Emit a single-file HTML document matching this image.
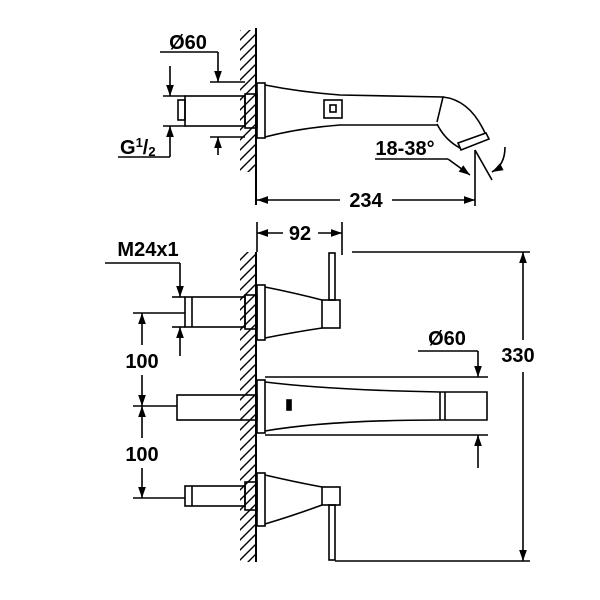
<!DOCTYPE html>
<html><head><style>body{margin:0;background:#fff}svg{display:block}</style></head><body>
<svg width="600" height="600" viewBox="0 0 600 600" xmlns="http://www.w3.org/2000/svg" font-family="Liberation Sans, sans-serif" font-weight="bold" font-size="20">
<defs>
<marker id="a" viewBox="0 0 10 10" refX="10" refY="5" markerWidth="7" markerHeight="7" orient="auto-start-reverse"><path d="M0,1.5L10,5L0,8.5z" fill="#000"/></marker>
<pattern id="h" width="10" height="10" patternUnits="userSpaceOnUse"><path d="M-2,12L12,-2M-2,2L2,-2M8,12L12,8" stroke="#000" stroke-width="1.4"/></pattern>
</defs>
<g fill="none" stroke="#000" stroke-width="1.6">
<rect x="240" y="30" width="15" height="142" fill="url(#h)" stroke="none"/>
<line x1="256" y1="28" x2="256" y2="205" stroke-width="2"/>
<rect x="178" y="100" width="7" height="20"/>
<rect x="185" y="96" width="60" height="30"/>
<rect x="245" y="94" width="12" height="34"/>
<rect x="257" y="83" width="8" height="55"/>
<path d="M265,85 Q300,92 340,95 L443,97 L437,122 M265,137 Q300,128 340,125 L437,125"/>
<path d="M443,97 Q470,100 485,133 M437,124 Q445,140 460,148"/>
<path d="M458,143 L486,133 L489,139 L461,150 Z"/>
<rect x="324" y="100" width="18" height="18"/>
<rect x="330" y="105" width="6" height="7"/>
<line x1="160" y1="52" x2="218" y2="52"/><line x1="218" y1="52" x2="218" y2="82" marker-end="url(#a)"/>
<line x1="210" y1="82" x2="245" y2="82"/><line x1="210" y1="137" x2="245" y2="137"/>
<line x1="218" y1="155" x2="218" y2="137" marker-end="url(#a)"/>
<line x1="163" y1="96" x2="185" y2="96"/><line x1="163" y1="126" x2="185" y2="126"/>
<line x1="170" y1="66" x2="170" y2="96" marker-end="url(#a)"/>
<line x1="118" y1="157" x2="170" y2="157"/><line x1="170" y1="157" x2="170" y2="126" marker-end="url(#a)"/>
<line x1="375" y1="159" x2="448" y2="159"/><line x1="448" y1="159" x2="470" y2="175" marker-end="url(#a)"/>
<line x1="475" y1="150" x2="475" y2="206"/>
<line x1="475" y1="150" x2="492" y2="180"/>
<path d="M505,147 Q505,165 492,172" marker-end="url(#a)"/>
<line x1="257" y1="200" x2="340" y2="200" marker-start="url(#a)"/><line x1="392" y1="200" x2="475" y2="200" marker-end="url(#a)"/>
<rect x="240" y="252" width="15" height="310" fill="url(#h)" stroke="none"/>
<line x1="256" y1="252" x2="256" y2="562" stroke-width="2"/>
<line x1="257" y1="222" x2="257" y2="252"/><line x1="342" y1="222" x2="342" y2="255"/>
<line x1="257" y1="233" x2="283" y2="233" marker-start="url(#a)"/><line x1="318" y1="233" x2="342" y2="233" marker-end="url(#a)"/>
<rect x="185" y="297" width="60" height="30"/>
<line x1="192" y1="297" x2="192" y2="327"/>
<rect x="245" y="295" width="12" height="34"/>
<rect x="257" y="285" width="8" height="55"/>
<path d="M265,287 Q295,293 322,300 M265,338 Q295,332 322,328"/>
<rect x="322" y="300" width="18" height="28"/>
<rect x="329" y="253" width="6" height="47"/>
<rect x="177" y="395" width="80" height="25"/>
<rect x="257" y="380" width="8" height="53"/>
<path d="M265,382 Q330,390 440,392 L487,392 L487,420 L440,420 Q330,420 265,431"/>
<line x1="440" y1="392" x2="440" y2="420"/>
<line x1="445" y1="392" x2="445" y2="420"/>
<rect x="287" y="400" width="4" height="10" fill="#000"/>
<line x1="265" y1="377" x2="488" y2="377"/><line x1="265" y1="435" x2="488" y2="435"/>
<line x1="418" y1="351" x2="478" y2="351"/><line x1="478" y1="351" x2="478" y2="377" marker-end="url(#a)"/>
<line x1="478" y1="468" x2="478" y2="435" marker-end="url(#a)"/>
<rect x="185" y="486" width="60" height="20"/>
<line x1="192" y1="486" x2="192" y2="506"/>
<rect x="245" y="482" width="12" height="28"/>
<rect x="257" y="473" width="8" height="53"/>
<path d="M265,475 Q295,482 322,487 M265,524 Q295,515 322,505"/>
<rect x="322" y="487" width="18" height="18"/>
<rect x="329" y="505" width="6" height="55"/>
<line x1="352" y1="252" x2="530" y2="252"/><line x1="335" y1="561" x2="530" y2="561"/>
<line x1="523" y1="340" x2="523" y2="252" marker-end="url(#a)"/><line x1="523" y1="372" x2="523" y2="561" marker-end="url(#a)"/>
<line x1="105" y1="263" x2="180" y2="263"/><line x1="180" y1="263" x2="180" y2="297" marker-end="url(#a)"/>
<line x1="172" y1="297" x2="185" y2="297"/><line x1="172" y1="327" x2="185" y2="327"/>
<line x1="180" y1="356" x2="180" y2="327" marker-end="url(#a)"/>
<line x1="133" y1="313" x2="185" y2="313"/><line x1="133" y1="406" x2="177" y2="406"/><line x1="133" y1="498" x2="185" y2="498"/>
<line x1="142" y1="345" x2="142" y2="313" marker-end="url(#a)"/><line x1="142" y1="375" x2="142" y2="406" marker-end="url(#a)"/>
<line x1="142" y1="438" x2="142" y2="406" marker-end="url(#a)"/><line x1="142" y1="468" x2="142" y2="498" marker-end="url(#a)"/>
</g>
<g fill="#000">
<text x="188" y="49" text-anchor="middle">Ø60</text>
<text x="120" y="154">G<tspan font-size="13" dy="-7">1</tspan><tspan dy="7">/</tspan><tspan font-size="13" dy="2">2</tspan></text>
<text x="405" y="155" text-anchor="middle">18-38°</text>
<text x="366" y="207" text-anchor="middle">234</text>
<text x="300" y="240" text-anchor="middle">92</text>
<text x="148" y="256" text-anchor="middle">M24x1</text>
<text x="447" y="345" text-anchor="middle">Ø60</text>
<text x="518" y="362" text-anchor="middle">330</text>
<text x="142" y="368" text-anchor="middle">100</text>
<text x="142" y="461" text-anchor="middle">100</text>
</g>
</svg>
</body></html>
